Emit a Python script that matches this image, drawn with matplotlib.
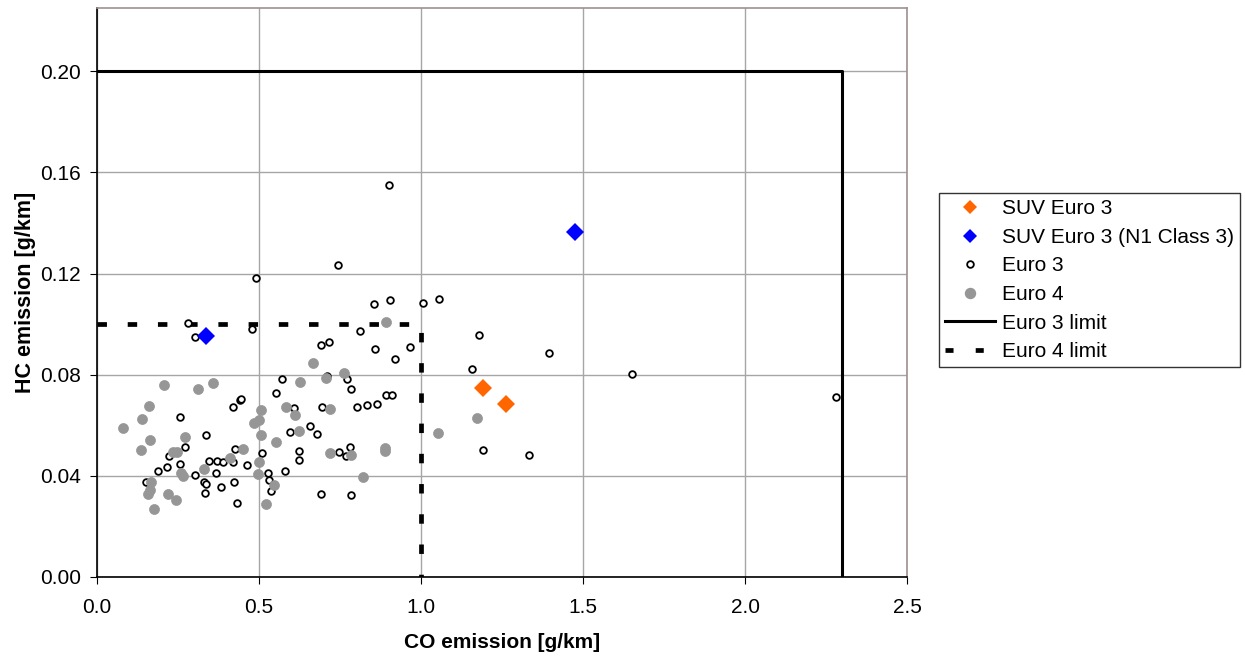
import matplotlib
matplotlib.use("Agg")
import matplotlib.pyplot as plt
from matplotlib.lines import Line2D

plt.rcParams['font.family'] = ['Liberation Sans', 'DejaVu Sans']

# SUV measurements
suv_co = [1.192, 1.262]
suv_hc = [0.0747, 0.0685]
suv_n1_co = [0.336, 1.476]
suv_n1_hc = [0.0953, 0.1364]

# Euro 3 vehicles (open circles)
e3_co = [0.280, 0.479, 0.302, 0.420, 0.442, 0.444, 0.257, 0.337, 0.273, 0.222,
         0.257, 0.215, 0.189, 0.152, 0.302, 0.345, 0.371, 0.389, 0.421, 0.425,
         0.463, 0.510, 0.367, 0.331, 0.337, 0.332, 0.383, 0.422, 0.433, 0.529,
         0.532, 0.536, 0.855, 0.903, 1.007, 0.813, 0.690, 0.717, 0.859, 0.965,
         0.919, 0.571, 0.771, 0.552, 0.785, 0.893, 0.910, 0.608, 0.694, 0.801,
         0.833, 0.863, 0.657, 0.596, 0.678, 0.624, 0.622, 0.748, 0.782, 0.768,
         0.581, 0.690, 0.783, 0.710, 1.056, 1.180, 1.395, 1.158, 1.650, 1.192,
         1.334, 2.281, 0.902, 0.743, 0.491]
e3_hc = [0.1005, 0.0981, 0.0950, 0.0672, 0.0700, 0.0702, 0.0631, 0.0563, 0.0515, 0.0478,
         0.0448, 0.0434, 0.0420, 0.0374, 0.0402, 0.0460, 0.0460, 0.0453, 0.0453, 0.0506,
         0.0444, 0.0491, 0.0410, 0.0377, 0.0369, 0.0331, 0.0357, 0.0377, 0.0291, 0.0412,
         0.0383, 0.0339, 0.1080, 0.1095, 0.1084, 0.0972, 0.0917, 0.0930, 0.0900, 0.0909,
         0.0864, 0.0784, 0.0783, 0.0727, 0.0742, 0.0721, 0.0721, 0.0669, 0.0673, 0.0672,
         0.0681, 0.0683, 0.0596, 0.0572, 0.0565, 0.0498, 0.0461, 0.0494, 0.0514, 0.0480,
         0.0418, 0.0329, 0.0323, 0.0795, 0.1099, 0.0957, 0.0884, 0.0822, 0.0801, 0.0502,
         0.0484, 0.0710, 0.1551, 0.1232, 0.1183]

# Euro 4 vehicles (grey dots)
e4_co = [0.206, 0.311, 0.357, 0.161, 0.140, 0.079, 0.164, 0.136, 0.273, 0.236,
         0.246, 0.450, 0.410, 0.506, 0.485, 0.499, 0.506, 0.499, 0.496, 0.330,
         0.259, 0.266, 0.166, 0.164, 0.158, 0.220, 0.244, 0.175, 0.521, 0.892,
         0.668, 0.762, 0.708, 0.627, 0.584, 0.612, 0.720, 0.622, 0.552, 0.720,
         0.784, 0.889, 0.889, 0.546, 0.822, 1.174, 1.053]
e4_hc = [0.0759, 0.0743, 0.0769, 0.0676, 0.0623, 0.0589, 0.0540, 0.0502, 0.0555, 0.0495,
         0.0494, 0.0506, 0.0470, 0.0661, 0.0607, 0.0620, 0.0560, 0.0455, 0.0406, 0.0426,
         0.0410, 0.0400, 0.0377, 0.0344, 0.0327, 0.0327, 0.0304, 0.0268, 0.0287, 0.1007,
         0.0847, 0.0808, 0.0787, 0.0770, 0.0673, 0.0642, 0.0665, 0.0577, 0.0534, 0.0491,
         0.0484, 0.0509, 0.0499, 0.0362, 0.0397, 0.0630, 0.0569]

# emission limits
e3_limit_co = [0.0, 2.3, 2.3]
e3_limit_hc = [0.20, 0.20, 0.0]
e4_limit_co = [0.0, 1.0, 1.0]
e4_limit_hc = [0.10, 0.10, 0.0]

fig = plt.figure(figsize=(12.45, 6.58), dpi=100)
ax = fig.add_axes([97/1245, 1-577/658, 810/1245, 569/658])

ax.plot(e3_limit_co, e3_limit_hc, color='black', lw=2.2, zorder=2)
l4, = ax.plot(e4_limit_co, e4_limit_hc, color='black', lw=3.4, zorder=2,
              dash_capstyle='butt')
l4.set_dashes([2, 4.4])

ax.plot(e3_co, e3_hc, 'o', ms=4.8, mfc='white', mec='black', mew=1.3, zorder=3)
ax.plot(e4_co, e4_hc, 'o', ms=7.2, mfc='#969696', mec='#969696', mew=0.5, zorder=4)
ax.plot(suv_co, suv_hc, 'D', ms=9.2, color='#FF6600', mew=0, zorder=5)
ax.plot(suv_n1_co, suv_n1_hc, 'D', ms=9.2, color='#0000FF', mew=0, zorder=5)

ax.set_xlim(0, 2.5)
ax.set_ylim(0, 0.225)
ax.set_xticks([0, 0.5, 1.0, 1.5, 2.0, 2.5])
ax.set_xticklabels(['0.0', '0.5', '1.0', '1.5', '2.0', '2.5'])
ax.set_yticks([0, 0.04, 0.08, 0.12, 0.16, 0.20])
ax.set_yticklabels(['0.00', '0.04', '0.08', '0.12', '0.16', '0.20'])
ax.grid(True, color='#a6a6a6', lw=1.0, zorder=0)
ax.set_axisbelow(True)
ax.tick_params(axis='x', direction='out', length=5, pad=10, labelsize=15)
ax.tick_params(axis='y', direction='out', length=5, pad=6.5, labelsize=15)
for s in ['left', 'bottom']:
    ax.spines[s].set_color('black')
for s in ['top', 'right']:
    ax.spines[s].set_color('#a09090')
for s in ax.spines.values():
    s.set_linewidth(1.2)

ax.set_xlabel('CO emission [g/km]', fontsize=15, fontweight='bold', labelpad=12)
ax.set_ylabel('HC emission [g/km]', fontsize=15.5, fontweight='bold', labelpad=3)

h4 = Line2D([], [], color='black', lw=3.4, dash_capstyle='butt')
h4.set_dashes([1.7, 4.7])
handles = [
    Line2D([], [], ls='none', marker='D', ms=7, color='#FF6600', mew=0),
    Line2D([], [], ls='none', marker='D', ms=7, color='#0000FF', mew=0),
    Line2D([], [], ls='none', marker='o', ms=4.8, mfc='white', mec='black', mew=1.3),
    Line2D([], [], ls='none', marker='o', ms=7.2, color='#969696'),
    Line2D([], [], color='black', lw=2.2),
    h4,
]
labels = ['SUV Euro 3', 'SUV Euro 3 (N1 Class 3)', 'Euro 3', 'Euro 4',
          'Euro 3 limit', 'Euro 4 limit']
leg = fig.legend(handles, labels, loc='upper left', bbox_to_anchor=(939/1245, 1-193/658),
                 fontsize=15, frameon=True, fancybox=False, handlelength=2.4,
                 handletextpad=0.3, labelspacing=0.46, borderpad=0.3, borderaxespad=0)
leg.get_frame().set_edgecolor('black')
leg.get_frame().set_linewidth(1.0)

fig.savefig('out.png', dpi=100)
